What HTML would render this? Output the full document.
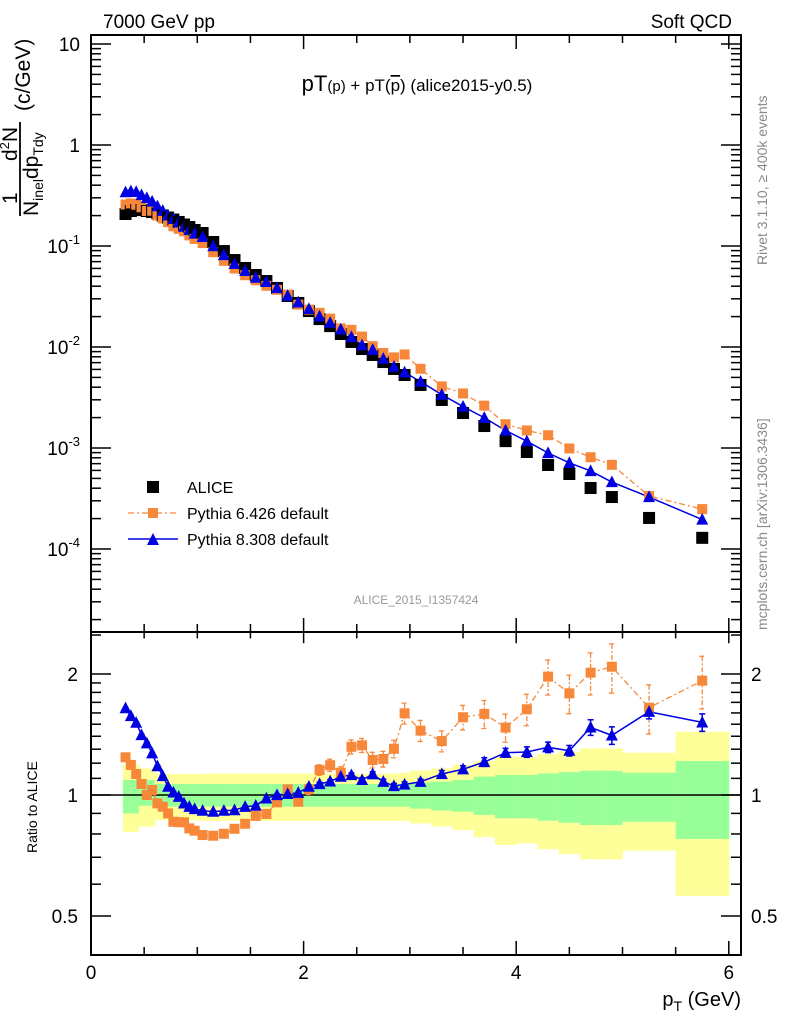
<!DOCTYPE html>
<html><head><meta charset="utf-8"><style>
html,body{margin:0;padding:0;background:#fff;}
svg{display:block;font-family:"Liberation Sans",Arial,sans-serif;}
</style></head><body>
<svg id="chart" width="786" height="1024" viewBox="0 0 786 1024" xmlns="http://www.w3.org/2000/svg">
<rect x="0" y="0" width="786" height="1024" fill="#fff"/>
<g id="bands"></g>
<line x1="91" y1="795" x2="741" y2="795" stroke="#000" stroke-width="1.5"/>
<g id="ticks"></g>
<g id="series"></g>
<rect x="91" y="35" width="650" height="597" fill="none" stroke="#000" stroke-width="2"/>
<rect x="91" y="632" width="650" height="323" fill="none" stroke="#000" stroke-width="2"/>
<text x="103" y="28" font-size="19">7000 GeV pp</text>
<text x="732" y="28" font-size="19" text-anchor="end">Soft QCD</text>
<text x="417" y="91" font-size="17" text-anchor="middle"><tspan font-size="22">pT</tspan><tspan font-size="15">(p)</tspan> + pT(<tspan text-decoration="overline">p</tspan>) (alice2015-y0.5)</text>
<text x="416" y="604" font-size="12" fill="#999" text-anchor="middle">ALICE_2015_I1357424</text>
<text transform="translate(767,265) rotate(-90)" font-size="14" fill="#888">Rivet 3.1.10, ≥ 400k events</text>
<text transform="translate(767,630) rotate(-90)" font-size="14" fill="#888">mcplots.cern.ch [arXiv:1306.3436]</text>
<g font-size="21">
<text transform="translate(17,204) rotate(-90)">1</text>
<text transform="translate(17,161) rotate(-90)">d<tspan font-size="13" dy="-8">2</tspan><tspan dy="8">N</tspan></text>
<line x1="20" y1="216" x2="20" y2="122" stroke="#000" stroke-width="1.8"/>
<text transform="translate(38,216) rotate(-90)">N<tspan font-size="14" dy="5">inel</tspan><tspan dy="-5">dp</tspan><tspan font-size="14" dy="5">Tdy</tspan></text>
<text transform="translate(30,111) rotate(-90)">(c/GeV)</text>
</g>
<text transform="translate(37,853) rotate(-90)" font-size="14">Ratio to ALICE</text>
<text x="741" y="1006" font-size="20" text-anchor="end">p<tspan font-size="14" dy="5">T</tspan><tspan dy="-5"> (GeV)</tspan></text>
<g font-size="16">
<g><rect x="147" y="481" width="12" height="12" fill="#000"/><text x="187" y="493">ALICE</text></g>
<g><line x1="128" y1="513" x2="178" y2="513" stroke="#f7883a" stroke-width="1.3" stroke-dasharray="6,3,2,3"/><rect x="148" y="508" width="10" height="10" fill="#f7883a"/><text x="187" y="519">Pythia 6.426 default</text></g>
<g><line x1="128" y1="539" x2="178" y2="539" stroke="#0000e0" stroke-width="1.5"/><path d="M147,545 L159,545 L153,533 Z" fill="#0000e0"/><text x="187" y="545">Pythia 8.308 default</text></g>
</g>
</svg>
<script>
var binEdges=[0.3,0.35,0.4,0.45,0.5,0.55,0.6,0.65,0.7,0.75,0.8,0.85,0.9,0.95,1.0,1.1,1.2,1.3,1.4,1.5,1.6,1.7,1.8,1.9,2.0,2.1,2.2,2.3,2.4,2.5,2.6,2.7,2.8,2.9,3.0,3.2,3.4,3.6,3.8,4.0,4.2,4.4,4.6,4.8,5.0,5.5,6.0];
var aliceValues=[0.2074,0.222,0.227,0.227,0.222,0.217,0.210,0.2004,0.1914,0.1828,0.1729,0.1632,0.1542,0.1440,0.1345,0.1096,0.0891,0.0726,0.0606,0.0516,0.0450,0.0384,0.0320,0.0273,0.0227,0.0189,0.0161,0.01345,0.01122,0.00955,0.00834,0.00710,0.00606,0.00528,0.00421,0.00299,0.00222,0.00165,0.00117,0.000913,0.000679,0.000553,0.000402,0.000327,0.000203,0.000129];
var py6Ratio=[1.241,1.188,1.128,1.065,1.0,1.029,0.953,0.935,0.900,0.858,0.856,0.855,0.826,0.815,0.795,0.792,0.801,0.824,0.848,0.887,0.897,0.959,1.033,0.962,1.033,1.154,1.186,1.136,1.318,1.329,1.222,1.229,1.303,1.597,1.446,1.362,1.561,1.591,1.471,1.634,1.97,1.79,2.015,2.085,1.649,1.925];
var py8Ratio=[1.644,1.572,1.513,1.41,1.345,1.27,1.18,1.115,1.049,1.015,0.99,0.953,0.935,0.923,0.914,0.909,0.914,0.917,0.935,0.941,0.981,1.0,1.006,1.013,1.049,1.065,1.081,1.111,1.121,1.09,1.126,1.079,1.053,1.062,1.079,1.128,1.159,1.208,1.274,1.279,1.314,1.289,1.473,1.407,1.611,1.516];
var py6RelErr=[.01,.01,.01,.01,.01,.01,.01,.01,.01,.01,.01,.01,.01,.01,.01,.01,.01,.01,.01,.01,.01,.01,.01,.01,.03,.03,.035,.035,.04,.04,.045,.045,.05,.06,.06,.06,.07,.08,.08,.09,.1,.11,.12,.14,.14,.15];
var py8RelErr=[.005,.005,.005,.005,.005,.005,.005,.005,.005,.005,.005,.005,.005,.005,.005,.005,.005,.005,.005,.005,.005,.005,.005,.005,.01,.01,.01,.012,.012,.012,.014,.014,.015,.015,.015,.02,.02,.025,.025,.03,.03,.03,.045,.05,.04,.05];
var yellowHi=[1.19,1.19,1.19,1.165,1.165,1.165,1.128,1.128,1.128,1.128,1.128,1.128,1.128,1.128,1.13,1.13,1.13,1.13,1.13,1.13,1.13,1.13,1.13,1.13,1.13,1.13,1.13,1.13,1.13,1.13,1.13,1.13,1.13,1.136,1.15,1.165,1.188,1.215,1.245,1.245,1.265,1.281,1.306,1.306,1.274,1.437];
var greenHi=[1.09,1.09,1.09,1.09,1.09,1.09,1.065,1.065,1.065,1.065,1.065,1.065,1.065,1.065,1.065,1.065,1.065,1.065,1.065,1.065,1.065,1.065,1.065,1.065,1.065,1.065,1.065,1.065,1.065,1.065,1.065,1.065,1.065,1.065,1.075,1.08,1.09,1.111,1.121,1.121,1.132,1.14,1.149,1.149,1.136,1.215];
var greenLo=[0.90,0.90,0.90,0.94,0.94,0.94,0.935,0.935,0.935,0.935,0.935,0.935,0.935,0.935,0.935,0.935,0.935,0.935,0.935,0.935,0.935,0.935,0.935,0.935,0.935,0.935,0.935,0.935,0.935,0.935,0.935,0.935,0.935,0.935,0.925,0.915,0.909,0.892,0.875,0.875,0.863,0.853,0.842,0.842,0.858,0.777];
var yellowLo=[0.81,0.81,0.81,0.834,0.834,0.834,0.866,0.866,0.866,0.866,0.866,0.866,0.866,0.866,0.862,0.862,0.862,0.862,0.862,0.862,0.862,0.862,0.862,0.862,0.862,0.862,0.862,0.862,0.862,0.862,0.862,0.862,0.862,0.862,0.85,0.835,0.818,0.785,0.751,0.758,0.733,0.713,0.692,0.692,0.727,0.561];
var xTickMajor=[0,2,4,6];
var ratioTickLabels=[0.5,1,2];

var NS='http://www.w3.org/2000/svg';
function xS(v){return 91+v*106.3;}
function yM(v){return 145-101*Math.log10(v);}
function yR(r){return 795-402*Math.log10(r);}
function mk(tag,attrs,parent){var e=document.createElementNS(NS,tag);for(var k in attrs)e.setAttribute(k,attrs[k]);parent.appendChild(e);return e;}
var bands=document.getElementById('bands'),ticks=document.getElementById('ticks'),series=document.getElementById('series');

for(var i=0;i<aliceValues.length;i++){
  var x0=xS(binEdges[i]),x1=xS(binEdges[i+1]);
  var yb=mk('rect',{x:x0,y:yR(yellowHi[i]),width:x1-x0+0.5,height:yR(yellowLo[i])-yR(yellowHi[i]),fill:'#ffff99'},bands);
  
  
  var gb=mk('rect',{x:x0,y:yR(greenHi[i]),width:x1-x0+0.5,height:yR(greenLo[i])-yR(greenHi[i]),fill:'#99ff99'},bands);
  
  
}

for(var t=0;t<=6.001;t+=0.5){
  var major=Math.abs(t-Math.round(t/2)*2)<1e-6;
  var L=major?14:8,xx=xS(t);
  mk('line',{x1:xx,y1:35,x2:xx,y2:35+L,stroke:'#000','stroke-width':1.5},ticks);
  mk('line',{x1:xx,y1:632,x2:xx,y2:632-L,stroke:'#000','stroke-width':1.5},ticks);
  mk('line',{x1:xx,y1:632,x2:xx,y2:632+L*0.8,stroke:'#000','stroke-width':1.5},ticks);
  mk('line',{x1:xx,y1:955,x2:xx,y2:955-L,stroke:'#000','stroke-width':1.5},ticks);
}
xTickMajor.forEach(function(v){
  var tx=mk('text',{x:xS(v),y:979,'font-size':19,'text-anchor':'middle'},ticks);
  
  
  tx.textContent=String(v);
});
for(var k=-5;k<=1;k++){
  for(var m=1;m<=9;m++){
    var v=m*Math.pow(10,k),yy=yM(v);
    if(yy<36||yy>631)continue;
    var L2=m===1?20:10;
    mk('line',{x1:91,y1:yy,x2:91+L2,y2:yy,stroke:'#000','stroke-width':1.5},ticks);
    mk('line',{x1:741,y1:yy,x2:741-L2,y2:yy,stroke:'#000','stroke-width':1.5},ticks);
    if(m===1){
      var lab=mk('text',{x:80,y:yy+7,'font-size':19,'text-anchor':'end'},ticks);
      
      
      if(k===0)lab.textContent='1';
      else if(k===1)lab.textContent='10';
      else lab.innerHTML='10<tspan font-size="13" dy="-9">'+k+'</tspan>';
    }
  }
}
[0.4,0.5,0.6,0.7,0.8,0.9,1,1.1,1.2,1.3,1.4,1.5,1.6,1.7,1.8,1.9,2,2.5].forEach(function(r){
  var yy=yR(r);if(yy<633||yy>954)return;
  var maj=(r===0.5||r===1||r===2),L3=maj?20:10;
  mk('line',{x1:91,y1:yy,x2:91+L3,y2:yy,stroke:'#000','stroke-width':1.5},ticks);
  mk('line',{x1:741,y1:yy,x2:741-L3,y2:yy,stroke:'#000','stroke-width':1.5},ticks);
});
ratioTickLabels.forEach(function(r){
  var a=mk('text',{x:78,y:yR(r)+7,'font-size':19,'text-anchor':'end'},ticks);
  
  
  a.textContent=String(r);
  var b=mk('text',{x:751,y:yR(r)+7,'font-size':19},ticks);
  
  
  b.textContent=String(r);
});

function centers(){var c=[];for(var i=0;i<aliceValues.length;i++)c.push((binEdges[i]+binEdges[i+1])/2);return c;}
var cx=centers();
var OR='#f7883a',BL='#0000e0';
function tri(x,y,s){return 'M'+(x-s)+','+(y+s*0.85)+' L'+(x+s)+','+(y+s*0.85)+' L'+x+','+(y-s*1.1)+' Z';}

var p6=[],p8=[],r6=[],r8=[];
for(var i=0;i<cx.length;i++){
  p6.push(xS(cx[i])+','+yM(aliceValues[i]*py6Ratio[i]));
  p8.push(xS(cx[i])+','+yM(aliceValues[i]*py8Ratio[i]));
  r6.push(xS(cx[i])+','+yR(py6Ratio[i]));
  r8.push(xS(cx[i])+','+yR(py8Ratio[i]));
}
var l;
l=mk('polyline',{points:p6.join(' '),fill:'none',stroke:OR,'stroke-width':1.3,'stroke-dasharray':'6,3,2,3'},series);


l=mk('polyline',{points:p8.join(' '),fill:'none',stroke:BL,'stroke-width':1.5},series);


l=mk('polyline',{points:r6.join(' '),fill:'none',stroke:OR,'stroke-width':1.3,'stroke-dasharray':'6,3,2,3'},series);


l=mk('polyline',{points:r8.join(' '),fill:'none',stroke:BL,'stroke-width':1.5},series);



for(var i=0;i<cx.length;i++){
  var x=xS(cx[i]);
  var a=mk('rect',{x:x-6,y:yM(aliceValues[i])-6,width:12,height:12,fill:'#000'},series);
  
  
  var o=mk('rect',{x:x-5,y:yM(aliceValues[i]*py6Ratio[i])-5,width:10,height:10,fill:OR},series);
  
  
  var b=mk('path',{d:tri(x,yM(aliceValues[i]*py8Ratio[i]),6),fill:BL},series);
  
  
  var e6a=yR(py6Ratio[i]*(1+py6RelErr[i])),e6b=yR(py6Ratio[i]*(1-py6RelErr[i]));
  var eb=mk('path',{d:'M'+x+','+e6a+' L'+x+','+e6b+' M'+(x-3)+','+e6a+' L'+(x+3)+','+e6a+' M'+(x-3)+','+e6b+' L'+(x+3)+','+e6b,stroke:OR,'stroke-width':1.3,'stroke-dasharray':'5,2,2,2',fill:'none'},series);
  
  
  var e8a=yR(py8Ratio[i]*(1+py8RelErr[i])),e8b=yR(py8Ratio[i]*(1-py8RelErr[i]));
  var eb2=mk('path',{d:'M'+x+','+e8a+' L'+x+','+e8b+' M'+(x-3)+','+e8a+' L'+(x+3)+','+e8a+' M'+(x-3)+','+e8b+' L'+(x+3)+','+e8b,stroke:BL,'stroke-width':1.5,fill:'none'},series);
  
  
  var ro=mk('rect',{x:x-5,y:yR(py6Ratio[i])-5,width:10,height:10,fill:OR},series);
  
  
  var rb=mk('path',{d:tri(x,yR(py8Ratio[i]),6),fill:BL},series);
  
  
}
</script>
</body></html>
